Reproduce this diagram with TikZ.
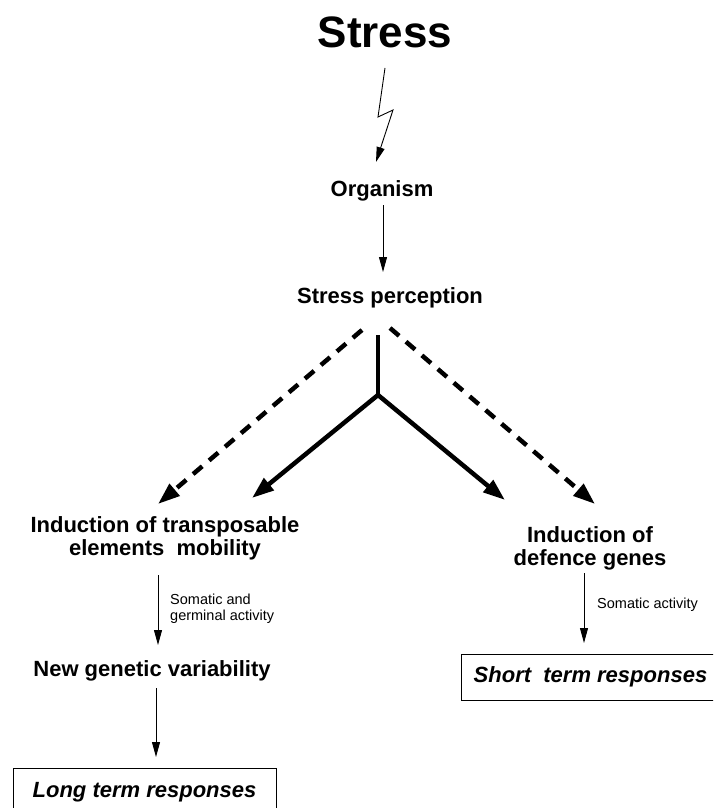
\documentclass[tikz,border=0pt]{standalone}
\usepackage{fontspec}
\setmainfont{Liberation Sans}
\usetikzlibrary{arrows.meta}
\begin{document}
\begin{tikzpicture}[x=1pt,y=-1pt,
  big/.style={font=\fontsize{44}{46}\selectfont\bfseries, inner sep=0pt, anchor=base},
  lbl/.style={font=\fontsize{22}{23}\selectfont\bfseries, inner sep=0pt, anchor=base},
  small/.style={font=\fontsize{14.5}{16}\selectfont, inner sep=0pt, anchor=base west, align=left},
  resp/.style={draw, line width=0.9pt, font=\fontsize{22}{23}\selectfont\bfseries\itshape, inner sep=0pt, anchor=center},
  thinarr/.style={line width=0.9pt, -{Triangle[length=15pt,width=8pt]}},
  thickline/.style={line width=4.5pt},
  thickarr/.style={line width=4.5pt, -{Triangle[length=22pt,width=15pt]}},
  dasharr/.style={thickarr, dash pattern=on 12pt off 9pt}
]
\useasboundingbox (0,0) rectangle (713,808);
\clip (0,0) rectangle (713,808);
\fill[white] (0,0) rectangle (713,808);

% texts
\node[big] (stress) at (385,48) {Stress};
\node[lbl] (organism) at (382,196) {Organism};
\node[lbl] (perception) at (390,303) {Stress perception};
\node[lbl, align=center] (tel) at (165,555) {Induction of transposable\\[0pt]elements~ mobility};
\node[lbl, align=center] (def) at (590,565) {Induction of\\[0pt]defence genes};
\node[lbl] (newgen) at (152,676) {New genetic variability};
\node[small] (lab1) at (170,620) {Somatic and\\germinal activity};
\node[small] (lab2) at (597,608) {Somatic activity};
\node[resp, minimum width=263pt, minimum height=48pt] (long) at (144.5,792) {Long term responses};
\node[resp, minimum width=259pt, minimum height=46pt] (short) at (590.5,677) {Short~ term responses};

% lightning
\coordinate (l1) at (385,68);
\coordinate (l2) at (378,117);
\coordinate (l3) at (393,110);
\coordinate (l4) at (376,162);
\draw[thinarr, line join=miter] (l1) -- (l2) -- (l3) -- (l4);

% organism -> perception
\coordinate (o1) at (383,205);
\coordinate (o2) at (383,272);
\draw[thinarr] (o1) -- (o2);

% thick branches
\coordinate (stemtop) at (378,335);
\coordinate (junction) at (378,395);
\coordinate (tA) at (252,498);
\coordinate (tB) at (505,500);
\draw[thickline] (stemtop) -- (junction);
\draw[thickarr] (junction) -- (tA);
\draw[thickarr] (junction) -- (tB);

% dashed branches
\coordinate (d1) at (362,330);
\coordinate (tC) at (158,504);
\coordinate (d2) at (390,328);
\coordinate (tD) at (595,504);
\draw[dasharr] (d1) -- (tC);
\draw[dasharr] (d2) -- (tD);

% lower arrows
\coordinate (a1) at (158,575);
\coordinate (a2) at (158,645);
\draw[thinarr] (a1) -- (a2);
\coordinate (b1) at (584,573);
\coordinate (b2) at (584,643);
\draw[thinarr] (b1) -- (b2);
\coordinate (c1) at (156,688);
\coordinate (c2) at (156,757);
\draw[thinarr] (c1) -- (c2);
\end{tikzpicture}
\end{document}
